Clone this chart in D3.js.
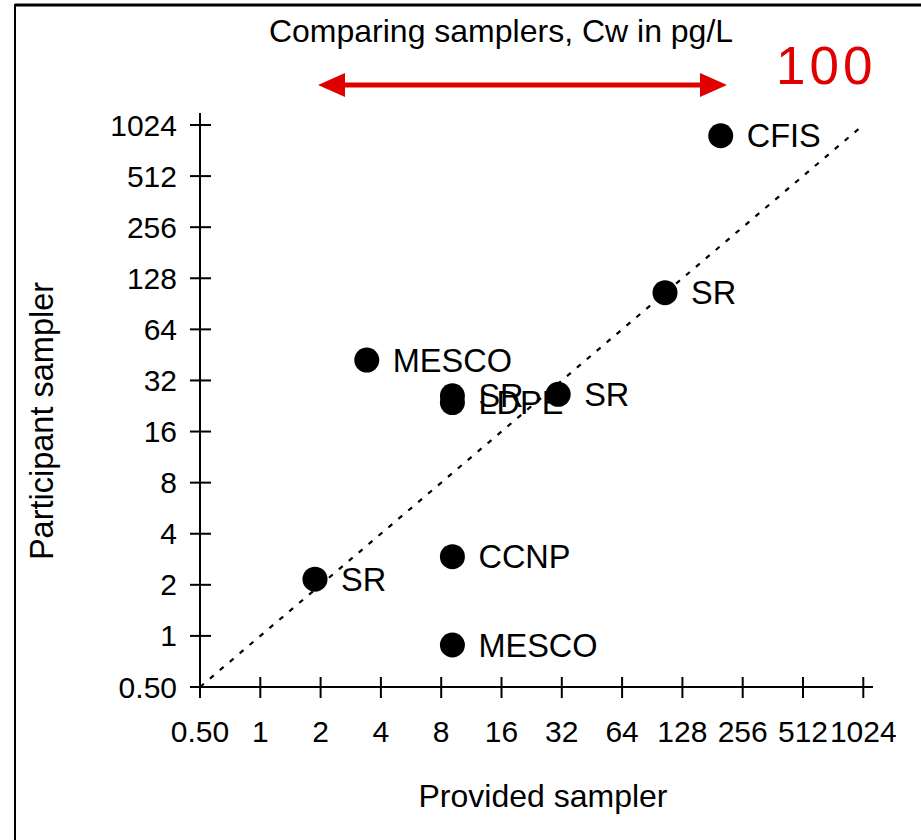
<!DOCTYPE html>
<html>
<head>
<meta charset="utf-8">
<script src="https://cdn.jsdelivr.net/npm/d3@7"></script>
<style>
  html, body { margin: 0; padding: 0; background: #fff; }
  svg { display: block; }
  text { font-family: "Liberation Sans", Arial, sans-serif; }
</style>
</head>
<body>
<svg id="chart" width="921" height="840"></svg>
<script>
// ---- Data ----
const labels  = ["CFIS", "SR", "MESCO", "SR", "LDPE", "SR", "SR", "CCNP", "MESCO"];
const provided    = [198.8, 104.8, 3.40, 9.1, 9.1, 30.7, 1.875, 9.1, 9.1];
const participant = [885, 105.3, 42.2, 26.0, 23.7, 26.5, 2.16, 2.93, 0.884];
const tickValues = [0.5, 1, 2, 4, 8, 16, 32, 64, 128, 256, 512, 1024];
const tickLabels = ["0.50", "1", "2", "4", "8", "16", "32", "64", "128", "256", "512", "1024"];
const titleText = "Comparing samplers, Cw in pg/L";
const xTitle = "Provided sampler";
const yTitle = "Participant sampler";
const annotationText = "100";

const svg = d3.select("#chart");

// frame
svg.append("line").attr("x1", 15).attr("x2", 921).attr("y1", 5).attr("y2", 5)
  .attr("stroke", "#000").attr("stroke-width", 3);
svg.append("line").attr("x1", 15).attr("x2", 15).attr("y1", 4).attr("y2", 840)
  .attr("stroke", "#000").attr("stroke-width", 2);

const x = d3.scaleLog().base(2).domain([0.5, 1024]).range([200, 863.3]);
const y = d3.scaleLog().base(2).domain([0.5, 1024]).range([687, 125]);

// 1:1 line
svg.append("line")
  .attr("x1", x(0.5)).attr("y1", y(0.5))
  .attr("x2", x(1024)).attr("y2", y(1024))
  .attr("stroke", "#000").attr("stroke-width", 2.2)
  .attr("stroke-dasharray", "5,8");

// axes
const axisG = svg.append("g");
axisG.append("line").attr("x1", 200).attr("x2", 873).attr("y1", y(0.5)).attr("y2", y(0.5))
  .attr("stroke", "#000").attr("stroke-width", 2);
axisG.append("line").attr("x1", x(0.5)).attr("x2", x(0.5)).attr("y1", y(0.5)).attr("y2", 113)
  .attr("stroke", "#000").attr("stroke-width", 2);

tickValues.forEach((v, i) => {
  axisG.append("line").attr("x1", x(v)).attr("x2", x(v))
    .attr("y1", y(0.5) - 10).attr("y2", y(0.5) + 11)
    .attr("stroke", "#000").attr("stroke-width", 2);
  axisG.append("text").attr("x", x(v)).attr("y", 742)
    .attr("text-anchor", "middle").attr("font-size", 30).text(tickLabels[i]);
  axisG.append("line").attr("x1", x(0.5) - 10).attr("x2", x(0.5) + 11)
    .attr("y1", y(v)).attr("y2", y(v))
    .attr("stroke", "#000").attr("stroke-width", 2);
  axisG.append("text").attr("x", 177).attr("y", y(v)).attr("dy", "0.35em")
    .attr("text-anchor", "end").attr("font-size", 30).text(tickLabels[i]);
});

// points
const data = labels.map((l, i) => ({ label: l, px: provided[i], py: participant[i] }));
svg.append("g").selectAll("circle").data(data).join("circle")
  .attr("cx", d => x(d.px)).attr("cy", d => y(d.py)).attr("r", 12.5)
  .attr("fill", "#000");
svg.append("g").selectAll("text").data(data).join("text")
  .attr("x", d => x(d.px) + 26).attr("y", d => y(d.py)).attr("dy", "0.36em")
  .attr("font-size", 32.5).attr("fill", "#000").text(d => d.label);

// titles
svg.append("text").attr("x", 501).attr("y", 42).attr("text-anchor", "middle")
  .attr("font-size", 32).text(titleText);
svg.append("text").attr("x", 543).attr("y", 807).attr("text-anchor", "middle")
  .attr("font-size", 32).text(xTitle);
svg.append("text").attr("transform", "translate(53,421) rotate(-90)")
  .attr("text-anchor", "middle").attr("font-size", 32.5).text(yTitle);

// red arrow annotation
const red = "#e00000";
const ax1 = 318, ax2 = 727, ay = 85, hl = 27, hh = 12;
svg.append("line").attr("x1", ax1 + hl - 2).attr("x2", ax2 - hl + 2).attr("y1", ay).attr("y2", ay)
  .attr("stroke", red).attr("stroke-width", 5);
svg.append("path").attr("d", `M${ax1},${ay} L${ax1 + hl},${ay - hh} L${ax1 + hl},${ay + hh} Z`).attr("fill", red);
svg.append("path").attr("d", `M${ax2},${ay} L${ax2 - hl},${ay - hh} L${ax2 - hl},${ay + hh} Z`).attr("fill", red);
svg.append("text").attr("x", 776).attr("y", 84)
  .attr("font-family", "'Open Sans', sans-serif").attr("font-size", 53)
  .attr("letter-spacing", "4px")
  .attr("fill", red).text(annotationText);
</script>
</body>
</html>
